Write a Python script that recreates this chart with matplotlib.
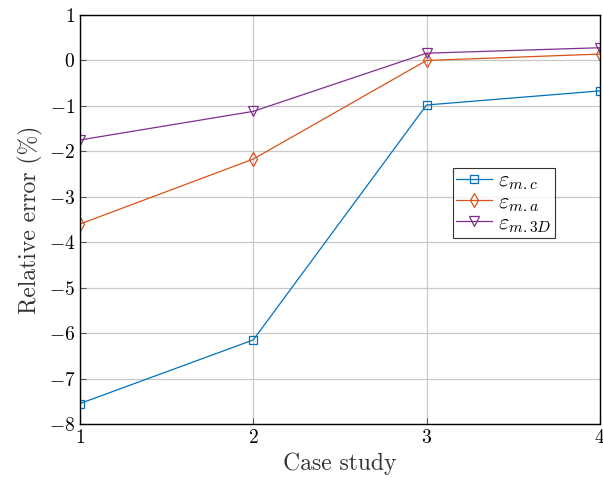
import matplotlib
matplotlib.use("Agg")
import matplotlib.pyplot as plt

plt.rcParams["font.family"] = "serif"
plt.rcParams["font.serif"] = ["cmr10"]
plt.rcParams["mathtext.fontset"] = "cm"
plt.rcParams["axes.formatter.use_mathtext"] = True

# datos
cases = [1, 2, 3, 4]
err_mc = [-7.55, -6.15, -0.98, -0.67]
err_ma = [-3.6, -2.17, 0.0, 0.14]
err_m3d = [-1.75, -1.12, 0.16, 0.28]

fig = plt.figure(figsize=(6.03, 4.8), dpi=100)
ax = fig.add_axes([0.1327, 0.1167, 0.862, 0.852])

ax.plot(cases, err_mc, color="#0072BD", lw=0.9, marker="s", ms=6,
        mfc="none", mew=0.9, label=r"$\varepsilon_{m.c}$")
ax.plot(cases, err_ma, color="#D95319", lw=0.9, marker="d", ms=7.5,
        mfc="none", mew=0.9, label=r"$\varepsilon_{m.a}$")
ax.plot(cases, err_m3d, color="#7E2F8E", lw=0.9, marker="v", ms=7,
        mfc="none", mew=0.9, label=r"$\varepsilon_{m.3D}$")

ax.set_xlim(1, 4)
ax.set_ylim(-8, 1)
ax.set_xticks(cases)
ax.set_yticks(range(-8, 2))
ax.grid(True, color="#c8c8c8", lw=0.9)
ax.set_axisbelow(True)
ax.tick_params(direction="in", labelsize=14, length=4, color="#555555")
for s in ax.spines.values():
    s.set_linewidth(1.0)

ax.set_xlabel("Case study", fontsize=17, color="#333333")
ax.set_ylabel("Relative error (%)", fontsize=17, color="#333333")

leg = ax.legend(loc="upper left", bbox_to_anchor=(0.717, 0.627), fontsize=16,
                frameon=True, fancybox=False, edgecolor="black",
                borderpad=0.15, labelspacing=0.0, handlelength=1.6,
                handletextpad=0.3, borderaxespad=0)
leg.get_frame().set_linewidth(0.8)

fig.savefig("out.png", dpi=100)
